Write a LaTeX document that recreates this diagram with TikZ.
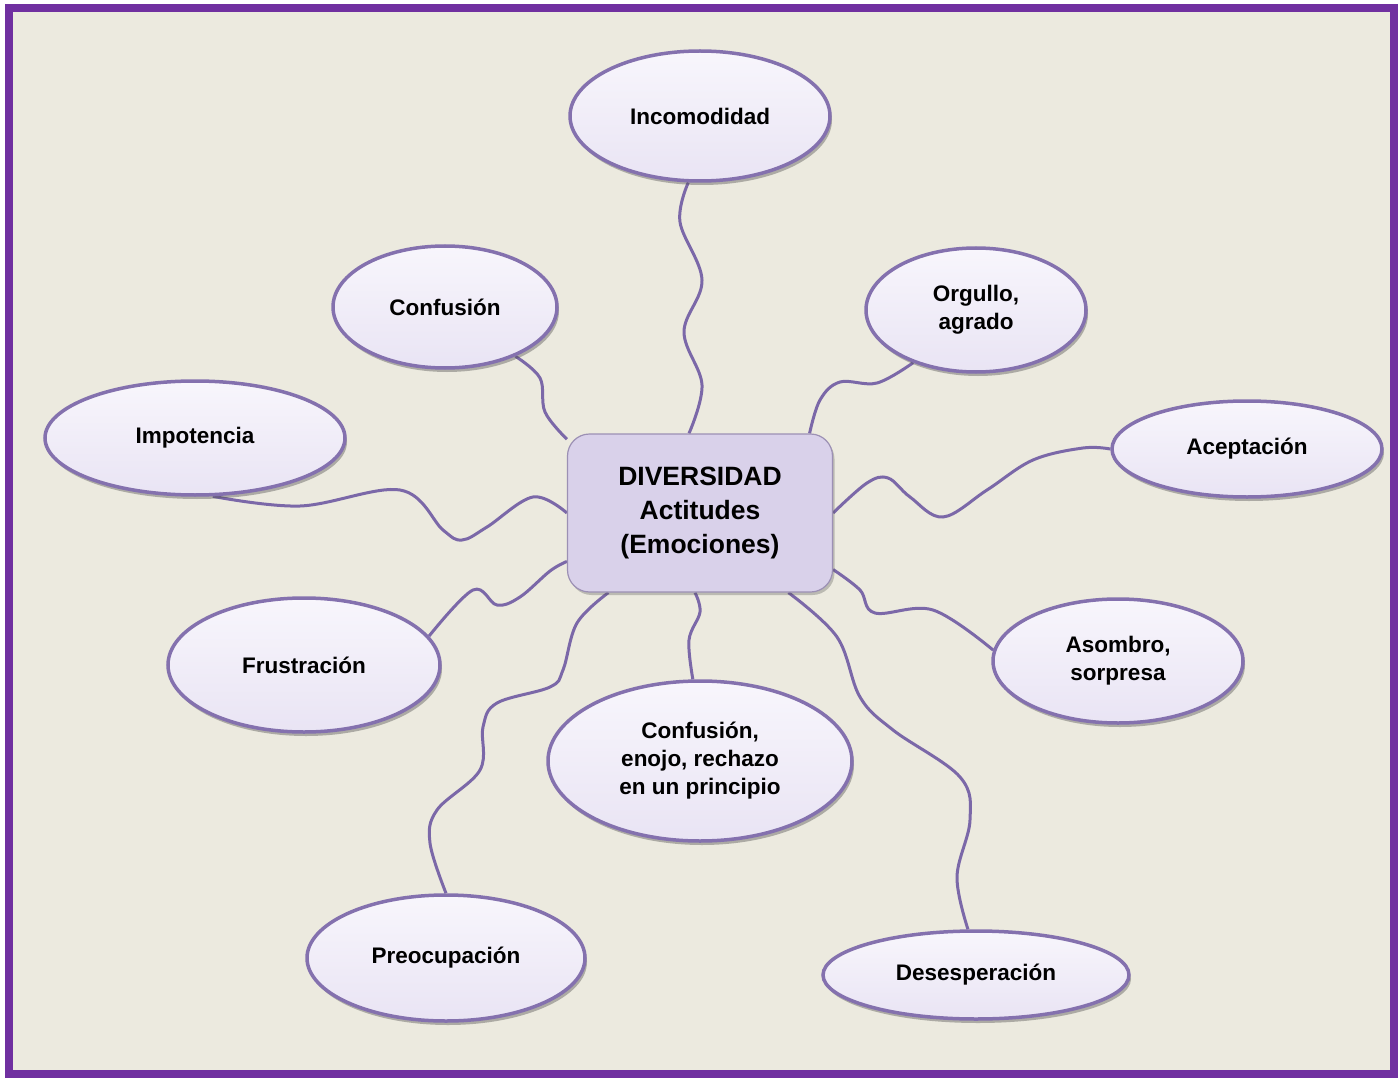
\documentclass[tikz,border=0pt]{standalone}
\usepackage{fontspec}
\setmainfont{Liberation Sans}
\usepackage{xcolor}
\usetikzlibrary{shapes.geometric, shadows, backgrounds}

\definecolor{paper}{HTML}{ECEADF}
\definecolor{framepurple}{HTML}{7030A0}
\definecolor{emoline}{HTML}{8471AE}
\definecolor{emotop}{HTML}{F8F6FC}
\definecolor{emobot}{HTML}{E9E4F4}
\definecolor{hubfill}{HTML}{D9D1EA}
\definecolor{hubline}{HTML}{9C90B4}
\definecolor{linkcol}{HTML}{7B68A8}

\begin{document}
\begin{tikzpicture}[x=1pt, y=-1pt,
    emo/.style={ellipse, draw=emoline, line width=3.5pt, top color=emotop, bottom color=emobot,
        inner sep=0pt, align=center, font=\fontsize{22.5}{28}\selectfont\bfseries,
        drop shadow={shadow xshift=2pt, shadow yshift=-4pt, opacity=.4, fill=black!70}},
    hub/.style={rectangle, rounded corners=22pt, draw=hubline, line width=1.2pt, fill=hubfill,
        minimum width=265pt, minimum height=158pt, align=center,
        font=\fontsize{26.5}{34}\selectfont\bfseries,
        drop shadow={shadow xshift=2pt, shadow yshift=-3pt, opacity=.3, fill=black!70}},
    link/.style={draw=linkcol, line width=3pt, smooth, tension=.6}]

    \useasboundingbox (0,0) rectangle (1398,1078);

    % centre
    \node[hub] (hub) at (700,513) {DIVERSIDAD\\Actitudes\\(Emociones)};

    % emociones
    \node[emo, minimum width=260pt, minimum height=130pt] (incom) at (700,116) {Incomodidad};
    \node[emo, minimum width=224pt, minimum height=122pt] (conf) at (445,307) {Confusión};
    \node[emo, minimum width=220pt, minimum height=124pt] (orgul) at (976,310) {Orgullo,\\agrado};
    \node[emo, minimum width=300pt, minimum height=114pt] (impot) at (195,438) {Impotencia};
    \node[emo, minimum width=270pt, minimum height=96pt] (acept) at (1247,449) {Aceptación};
    \node[emo, minimum width=272pt, minimum height=134pt] (frust) at (304,665) {Frustración};
    \node[emo, minimum width=250pt, minimum height=124pt] (asomb) at (1118,661) {Asombro,\\sorpresa};
    \node[emo, minimum width=304pt, minimum height=160pt] (enojo) at (700,761) {Confusión,\\enojo, rechazo\\en un principio};
    \node[emo, minimum width=278pt, minimum height=126pt] (preoc) at (446,958) {Preocupación};
    \node[emo, minimum width=306pt, minimum height=88pt] (desesp) at (976,975) {Desesperación};

    \begin{scope}[on background layer]
        \fill[white] (0,0) rectangle (1398,1078);
        \fill[paper] (9,8) rectangle (1394,1074);
        \draw[framepurple, line width=8pt] (9,8) rectangle (1394,1074);

        % conectores ondulados
        \draw[link] plot coordinates {(incom.-100) (680,222) (702,280) (684,332) (702,385) ([xshift=-11pt]hub.north)};
        \draw[link] plot coordinates {(conf.-35) (540,378) (545,412) (hub.151)};
        \draw[link] plot coordinates {(orgul.-140) (877,383) (840,382) (820,400) (hub.36)};
        \draw[link] plot coordinates {(acept.west) (1083,448) (1033,460) (987,490) (943,517) (910,497) (888,478) (867,483) (hub.east)};
        \draw[link] plot coordinates {(impot.-73) (300,506) (400,490) (443,530) (462,540) (487,527) (533,497) (hub.west)};
        \draw[link] plot coordinates {(frust.13) (473,590) (497,605) (520,597) (550,571) (hub.-160)};
        \draw[link] plot coordinates {(preoc.north) (430,843) (437,810) (480,770) (483,727) (497,703) (550,687) (563,670) (577,623) (hub.-139)};
        \draw[link] plot coordinates {(enojo.95) (689,640) (700,612) ([xshift=-5pt]hub.south)};
        \draw[link] plot coordinates {(desesp.100) (957,877) (970,820) (960,777) (893,730) (860,697) (837,637) (hub.-42)};
        \draw[link] plot coordinates {(asomb.175) (933,610) (875,613) (860,590) (hub.-23)};
    \end{scope}
\end{tikzpicture}
\end{document}
